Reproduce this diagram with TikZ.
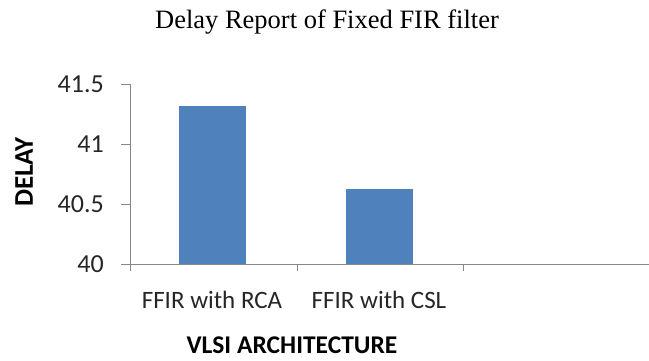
\documentclass[tikz,border=0pt]{standalone}
\usepackage{fontspec}
\setmainfont{Liberation Serif}
\newfontfamily\chartfont{Carlito}
\begin{document}
\begin{tikzpicture}[x=1pt,y=-1pt,
  axisline/.style={draw=black!47, line width=0.9pt},
  ticklab/.style={font=\chartfont\fontsize{26}{26}\selectfont, text=black!85, inner sep=0pt},
  catlab/.style={font=\chartfont\fontsize{25}{25}\selectfont, text=black!85, inner sep=0pt},
  axtitle/.style={font=\chartfont\bfseries\fontsize{25.5}{25.5}\selectfont, inner sep=0pt},
]
\definecolor{barblue}{HTML}{4F81BD}
\useasboundingbox (0,0) rectangle (649,360);
% title
\node[font=\fontsize{26.5}{26.5}\selectfont, inner sep=0pt] (title) at (327,22) {Delay Report of Fixed FIR filter};
% bars
\fill[barblue] (179,264) rectangle (246,106);
\fill[barblue] (346,264) rectangle (413,189);
% axes
\draw[axisline] (130,84) -- (130,264);
\draw[axisline] (121,264) -- (649,264);
% y ticks and labels
\foreach \y/\lab in {84/41.5,144/41,204/40.5,264/40}{
  \draw[axisline] (121,\y) -- (130,\y);
  \node[ticklab, anchor=east] at (104,\y) {\lab};
}
% category ticks
\foreach \x in {130,297,463}{
  \draw[axisline] (\x,264) -- (\x,271);
}
% category labels
\node[catlab] (c1) at (212,300) {FFIR with RCA};
\node[catlab] (c2) at (379,300) {FFIR with CSL};
% axis titles
\node[axtitle] (xt) at (292,345) {VLSI ARCHITECTURE};
\node[axtitle, rotate=90, font=\chartfont\bfseries\fontsize{27}{27}\selectfont] (yt) at (24,172) {DELAY};
\end{tikzpicture}
\end{document}
